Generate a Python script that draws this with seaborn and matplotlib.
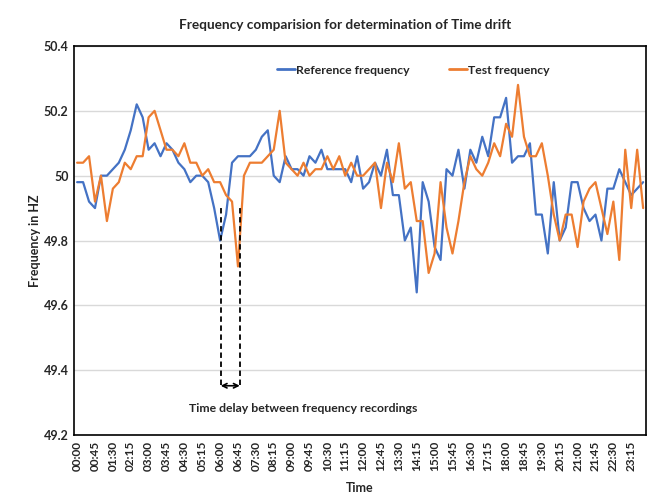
import numpy as np
import pandas as pd
import seaborn as sns
import matplotlib
matplotlib.use("Agg")
import matplotlib.pyplot as plt

# ---- data ----
times = [f"{h:02d}:{m:02d}" for h in range(24) for m in (0, 15, 30, 45)]

reference_freq = [
    49.98, 49.98, 49.92, 49.90, 50.00, 50.00, 50.02, 50.04, 50.08, 50.14,
    50.22, 50.18, 50.08, 50.10, 50.06, 50.10, 50.08, 50.04, 50.02, 49.98,
    50.00, 50.00, 49.98, 49.90, 49.80, 49.88, 50.04, 50.06, 50.06, 50.06,
    50.08, 50.12, 50.14, 50.00, 49.98, 50.06, 50.02, 50.02, 50.00, 50.06,
    50.04, 50.08, 50.02, 50.02, 50.02, 50.02, 49.98, 50.06, 49.96, 49.98,
    50.04, 50.00, 50.08, 49.94, 49.94, 49.80, 49.84, 49.64, 49.98, 49.92,
    49.78, 49.74, 50.02, 50.00, 50.08, 49.96, 50.08, 50.04, 50.12, 50.06,
    50.18, 50.18, 50.24, 50.04, 50.06, 50.06, 50.10, 49.88, 49.88, 49.76,
    49.98, 49.80, 49.84, 49.98, 49.98, 49.90, 49.86, 49.88, 49.80, 49.96,
    49.96, 50.02, 49.98, 49.94, 49.96, 49.98,
]

test_freq = [
    50.04, 50.04, 50.06, 49.92, 50.00, 49.86, 49.96, 49.98, 50.04, 50.02,
    50.06, 50.06, 50.18, 50.20, 50.14, 50.08, 50.08, 50.06, 50.10, 50.04,
    50.04, 50.00, 50.02, 49.98, 49.98, 49.94, 49.92, 49.72, 50.00, 50.04,
    50.04, 50.04, 50.06, 50.08, 50.20, 50.04, 50.02, 50.00, 50.04, 50.00,
    50.02, 50.02, 50.06, 50.02, 50.06, 50.00, 50.04, 50.00, 50.00, 50.02,
    50.04, 49.90, 50.04, 49.98, 50.10, 49.96, 49.98, 49.86, 49.86, 49.70,
    49.76, 49.98, 49.84, 49.76, 49.86, 49.98, 50.06, 50.02, 50.00, 50.04,
    50.10, 50.06, 50.16, 50.12, 50.28, 50.12, 50.06, 50.06, 50.10, 50.00,
    49.88, 49.80, 49.88, 49.88, 49.78, 49.92, 49.96, 49.98, 49.90, 49.82,
    49.92, 49.74, 50.08, 49.90, 50.08, 49.90,
]

series_names = ["Reference frequency", "Test frequency"]
y_ticks = [49.2, 49.4, 49.6, 49.8, 50.0, 50.2, 50.4]
y_tick_labels = ["49.2", "49.4", "49.6", "49.8", "50", "50.2", "50.4"]

df = pd.DataFrame({
    "idx": list(range(len(times))) * 2,
    "freq": reference_freq + test_freq,
    "series": [series_names[0]] * len(times) + [series_names[1]] * len(times),
})

# ---- plot ----
sns.set_style("white")
plt.rcParams["font.family"] = ["Lato", "DejaVu Sans"]

fig = plt.figure(figsize=(6.62, 4.93), dpi=100)
ax = fig.add_axes([0.112, 0.1176, 0.864, 0.7891])

sns.lineplot(data=df, x="idx", y="freq", hue="series", ax=ax,
             palette={series_names[0]: "#4472C4", series_names[1]: "#ED7D31"},
             linewidth=1.6, legend=True)

ax.set_xlim(-0.5, len(times) - 0.5)
ax.set_ylim(49.2, 50.4)
ax.set_yticks(y_ticks)
ax.set_yticklabels(y_tick_labels, fontsize=9, fontweight="bold")
tick_pos = list(range(0, len(times), 3))
ax.set_xticks(tick_pos)
ax.set_xticklabels([times[i] for i in tick_pos], rotation=90, fontsize=8.5,
                   fontweight="bold")
ax.tick_params(axis="both", length=0, pad=4)
ax.yaxis.grid(True, color="#d9d9d9", linewidth=1)
ax.set_axisbelow(True)
for s in ax.spines.values():
    s.set_visible(True)
    s.set_color("black")
    s.set_linewidth(1.2)

ax.set_xlabel("Time", fontsize=9, fontweight="bold", labelpad=8)
ax.set_ylabel("Frequency in HZ", fontsize=9, fontweight="bold", labelpad=2)
fig.suptitle("Frequency comparision for determination of Time drift",
             fontsize=9.8, fontweight="bold", x=0.522, y=0.962)

leg = ax.legend(loc="center", bbox_to_anchor=(0.593, 0.938), ncol=2,
                frameon=False, fontsize=8.8, handlelength=1.5,
                handletextpad=0.1, columnspacing=3.2)
for t in leg.get_texts():
    t.set_fontweight("bold")
for h in leg.get_lines():
    h.set_linewidth(2)

# annotation: time delay
for xv in (24.1, 27.3):
    ax.plot([xv, xv], [49.355, 49.91], color="black", linestyle=(0, (3, 2)),
            linewidth=1.3)
ax.annotate("", xy=(24.1, 49.352), xytext=(27.3, 49.352),
            arrowprops=dict(arrowstyle="<->", color="black", lw=1.2,
                            shrinkA=0, shrinkB=0, mutation_scale=8))
ax.text(38.0, 49.283, "Time delay between frequency recordings", ha="center",
        va="center", fontsize=8.8, fontweight="bold")

fig.savefig("out.png", dpi=100)
